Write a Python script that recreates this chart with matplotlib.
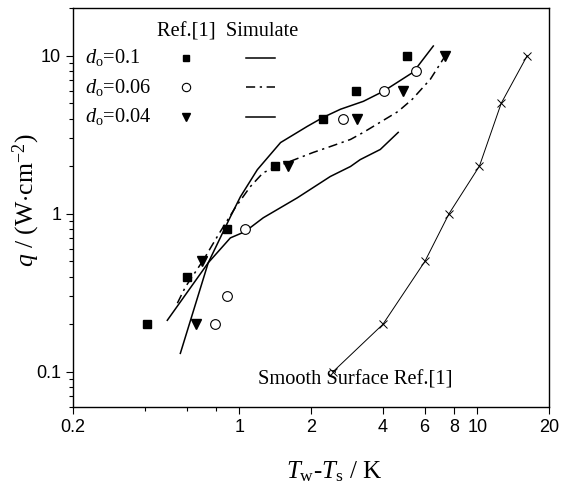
import matplotlib
matplotlib.use("Agg")
import matplotlib.pyplot as plt
from matplotlib.lines import Line2D
from matplotlib.ticker import FixedLocator, NullFormatter, FixedFormatter

plt.rcParams['mathtext.fontset'] = 'custom'
plt.rcParams['mathtext.rm'] = 'Liberation Serif'
plt.rcParams['mathtext.it'] = 'Liberation Serif:italic'
plt.rcParams['mathtext.bf'] = 'Liberation Serif:bold'

# ---- Ref.[1] experimental data ----
exp01_x = [0.41, 0.60, 0.89, 1.41, 2.24, 3.1, 5.05]
exp01_y = [0.2, 0.4, 0.8, 2.0, 4.0, 6.0, 10.0]
exp006_x = [0.79, 0.887, 1.055, 2.72, 4.05, 5.52]
exp006_y = [0.2, 0.3, 0.8, 4.0, 6.0, 8.0]
exp004_x = [0.66, 0.70, 1.60, 3.12, 4.87, 7.31]
exp004_y = [0.2, 0.5, 2.0, 4.0, 6.0, 10.0]

# ---- smooth surface Ref.[1] ----
smooth_x = [2.47, 4.01, 6.02, 7.6, 10.2, 12.6, 16.2]
smooth_y = [0.1, 0.2, 0.5, 1.0, 2.0, 5.0, 10.0]

# ---- simulation curves ----
sim01_x = [0.565, 0.74, 0.917, 1.01, 1.19, 1.49, 1.93, 2.25, 2.66, 3.32, 4.03, 5.38, 6.53]
sim01_y = [0.131, 0.49, 0.957, 1.28, 1.9, 2.82, 3.57, 4.07, 4.58, 5.14, 5.95, 7.86, 11.5]
sim006_x = [0.549, 0.593, 0.706, 0.816, 0.96, 1.11, 1.26, 1.59, 2.04, 2.41, 2.93, 3.32, 4.65, 5.33, 6.35, 7.31]
sim006_y = [0.272, 0.344, 0.51, 0.736, 1.09, 1.48, 1.82, 2.11, 2.44, 2.66, 2.95, 3.27, 4.44, 5.3, 7.1, 9.9]
sim004_x = [0.498, 0.74, 0.917, 1.055, 1.26, 1.75, 2.41, 2.93, 3.22, 3.91, 4.65]
sim004_y = [0.212, 0.49, 0.704, 0.77, 0.943, 1.26, 1.72, 1.99, 2.2, 2.55, 3.27]

xticks = [0.2, 1, 2, 4, 6, 8, 10, 20]
xtick_labels = ['0.2', '1', '2', '4', '6', '8', '10', '20']
xminor = [0.4, 0.6, 0.8]
yticks = [0.1, 1, 10]
ytick_labels = ['0.1', '1', '10']

fig = plt.figure(figsize=(5.73, 4.84), dpi=100)
ax = fig.add_axes([73/573, 1-407/484, 476/573, 399/484])
ax.set_xscale('log')
ax.set_yscale('log')
ax.set_xlim(0.2, 20)
ax.set_ylim(0.06, 20)

lw = 1.1
dd = (6, 3, 1.5, 3)
ax.plot(sim01_x, sim01_y, '-', color='black', lw=lw)
ax.plot(sim006_x, sim006_y, color='black', lw=lw, dashes=dd)
ax.plot(sim004_x, sim004_y, '-', color='black', lw=lw)
ax.plot(smooth_x, smooth_y, '-', color='black', lw=0.7, marker='x', ms=6, mew=0.7)

ax.plot(exp01_x, exp01_y, 's', color='black', ms=6.3, ls='none')
ax.plot(exp006_x, exp006_y, 'o', mfc='white', mec='black', mew=0.8, ms=7, ls='none')
ax.plot(exp004_x, exp004_y, 'v', color='black', ms=6.5, ls='none')

# ticks
ax.xaxis.set_major_locator(FixedLocator(xticks))
ax.xaxis.set_major_formatter(FixedFormatter(xtick_labels))
ax.xaxis.set_minor_locator(FixedLocator(xminor))
ax.xaxis.set_minor_formatter(NullFormatter())
ax.yaxis.set_major_locator(FixedLocator(yticks))
ax.yaxis.set_major_formatter(FixedFormatter(ytick_labels))
ax.tick_params(which='major', direction='out', length=5, width=0.8, labelsize=13)
ax.tick_params(which='minor', direction='out', length=3, width=0.8)
for lab in ax.get_xticklabels() + ax.get_yticklabels():
    lab.set_fontfamily('Liberation Sans')
for s in ax.spines.values():
    s.set_linewidth(1.0)

ax.set_xlabel(r'$T_{\mathrm{w}}$-$T_{\mathrm{s}}$ / K', fontsize=18, family='Liberation Serif')
ax.xaxis.label.set_va('center')
ax.xaxis.set_label_coords(0.548, -0.163)
ax.set_ylabel(r'$q$ / (W$\cdot$cm$^{\mathrm{-2}}$)', fontsize=18.5, family='Liberation Serif')
ax.yaxis.label.set_va('center')
ax.yaxis.set_label_coords(-0.097, 0.519)

# legend-like table
tf = 14.7
ax.text(0.176, 0.940, 'Ref.[1]  Simulate', transform=ax.transAxes, fontsize=tf,
        family='Liberation Serif', va='center', ha='left')
rows = [(r'$d_{\mathrm{o}}$=0.1', 0.875), (r'$d_{\mathrm{o}}$=0.06', 0.802), (r'$d_{\mathrm{o}}$=0.04', 0.727)]
for lab, yy in rows:
    ax.text(0.025, yy, lab, transform=ax.transAxes, fontsize=tf, family='Liberation Serif',
            va='center', ha='left')
ax.add_line(Line2D([0.237], [0.875], transform=ax.transAxes, marker='s', color='black', ms=5, ls='none'))
ax.add_line(Line2D([0.237], [0.802], transform=ax.transAxes, marker='o', mfc='white', mec='black', mew=0.8, ms=6, ls='none'))
ax.add_line(Line2D([0.237], [0.727], transform=ax.transAxes, marker='v', color='black', ms=5.5, ls='none'))
ax.add_line(Line2D([0.363, 0.424], [0.875, 0.875], transform=ax.transAxes, color='black', lw=lw))
ax.add_line(Line2D([0.363, 0.424], [0.802, 0.802], transform=ax.transAxes, color='black', lw=lw, dashes=dd))
ax.add_line(Line2D([0.363, 0.424], [0.727, 0.727], transform=ax.transAxes, color='black', lw=lw))

ax.text(0.389, 0.068, 'Smooth Surface Ref.[1]', transform=ax.transAxes, fontsize=tf,
        family='Liberation Serif', va='center', ha='left')

fig.savefig('out.png', dpi=100)
